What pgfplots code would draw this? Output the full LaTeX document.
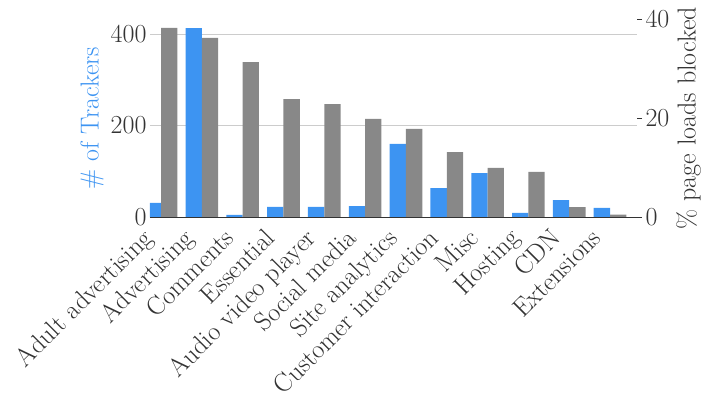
\documentclass[border=0pt]{standalone}
\usepackage{fontspec}
\usepackage{pgfplots}
\pgfplotsset{compat=1.18}
\definecolor{trk}{HTML}{3D94F2}
\definecolor{blk}{HTML}{888888}
\definecolor{txt}{HTML}{333333}
\definecolor{grd}{HTML}{CCCCCC}

\begin{document}
\begin{tikzpicture}[x=1pt,y=1pt]
\useasboundingbox (-150,-180) rectangle (565,217);
\pgfplotsset{
  every axis/.append style={
    width=487pt, height=198pt, scale only axis,
    xmin=-0.27, xmax=11.66,
    font=\fontsize{26}{31}\selectfont,
    /pgf/number format/assume math mode=true,
    ticklabel style={text=txt},
  }
}
% left axis: number of trackers
\begin{axis}[
  ymin=0, ymax=432.8,
  axis x line*=bottom, axis y line*=left,
  x axis line style={txt, line width=1pt, -},
  y axis line style={draw=none},
  major tick length=0pt,
  xtick={0,...,11},
  xticklabels={Adult advertising,Advertising,Comments,Essential,Audio video player,Social media,Site analytics,Customer interaction,Misc,Hosting,CDN,Extensions},
  xticklabel style={xshift=-20pt, yshift=-5pt, rotate=45, anchor=north east},
  ytick={0,200,400},
  ymajorgrids, grid style={grd, line width=0.8pt},
  ylabel={\# of Trackers}, ylabel style={text=trk},
]
\addplot[ybar, bar width=0.4, bar shift=-0.2, fill=trk, draw=none] coordinates {
  (0,31) (1,413) (2,4.4) (3,22) (4,22) (5,24) (6,160) (7,63) (8,96) (9,9) (10,37) (11,20)
};
\end{axis}
% right axis: share of page loads blocked
\begin{axis}[
  ymin=0, ymax=40,
  axis on top,
  axis x line*=bottom, axis y line*=right,
  x axis line style={txt, line width=1pt, -},
  y axis line style={draw=none},
  xtick=\empty,
  ytick={0,20,40},
  tick align=outside, major tick length=5pt,
  ytick style={txt, line width=0.8pt},
  ylabel={\% page loads blocked}, ylabel style={text=txt},
]
\addplot[ybar, bar width=0.4, bar shift=0.2, fill=blk, draw=none] coordinates {
  (0,38.2) (1,36.2) (2,31.3) (3,23.8) (4,22.8) (5,19.8) (6,17.8) (7,13.1) (8,9.9) (9,9.1) (10,2.0) (11,0.5)
};
\end{axis}
\end{tikzpicture}
\end{document}
